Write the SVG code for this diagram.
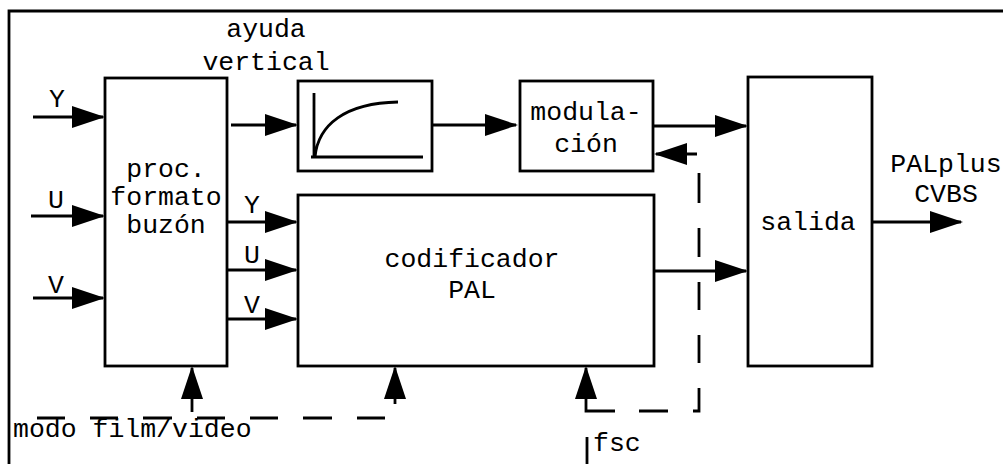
<svg xmlns="http://www.w3.org/2000/svg" width="1003" height="464" viewBox="0 0 1003 464">
<style>
.box{fill:#fff;stroke:#000;stroke-width:2.8}
.ln{fill:none;stroke:#000;stroke-width:2.8}
.ar{fill:none;stroke:#000;stroke-width:2.8;marker-end:url(#ah)}
.t{font-family:"Liberation Mono","Courier New",monospace;font-size:26.5px;fill:#000;text-anchor:middle}
.tl{font-family:"Liberation Mono","Courier New",monospace;font-size:26.5px;fill:#000}
</style>
<defs>
<marker id="ah" markerUnits="userSpaceOnUse" markerWidth="34" markerHeight="24" refX="31" refY="11" orient="auto">
<path d="M0,0 L33,11 L0,22 z" fill="#000"/>
</marker>
</defs>
<rect width="1003" height="464" fill="#fff"/>
<g id="frame">
<path class="ln" d="M9,464 V11 H1003"/>
</g>
<g id="proc">
<rect class="box" x="105" y="78" width="122" height="288"/>
<text class="t" x="166" y="177">proc.</text>
<text class="t" x="166" y="205">formato</text>
<text class="t" x="166" y="233">buzón</text>
</g>
<g id="ayuda">
<rect class="box" x="298" y="81" width="134" height="90"/>
<path class="ln" d="M314,93 V157 M311,157 H423 M315,157 C318,125 345,103 398,102"/>
</g>
<g id="modulacion">
<rect class="box" x="520" y="81" width="133" height="90"/>
<text class="t" x="586" y="120">modula-</text>
<text class="t" x="586" y="152">ción</text>
</g>
<g id="codificador">
<rect class="box" x="298" y="195" width="356" height="171"/>
<text class="t" x="472" y="267">codificador</text>
<text class="t" x="472" y="298">PAL</text>
</g>
<g id="salida">
<rect class="box" x="748" y="77" width="124" height="289"/>
<text class="t" x="808" y="230">salida</text>
</g>
<g id="labels">
<text class="t" x="266" y="37">ayuda</text>
<text class="t" x="266" y="70">vertical</text>
<text class="t" x="57" y="107">Y</text>
<text class="t" x="56" y="208">U</text>
<text class="t" x="56" y="293">V</text>
<text class="t" x="252" y="213">Y</text>
<text class="t" x="252" y="263">U</text>
<text class="t" x="252" y="313">V</text>
<text class="t" x="946" y="172">PALplus</text>
<text class="t" x="946" y="202">CVBS</text>
<text class="tl" x="13" y="437">modo film/video</text>
<text class="tl" x="593" y="451">fsc</text>
</g>
<g id="connectors">
<path class="ar" d="M33,117 H103"/>
<path class="ar" d="M31,216 H103"/>
<path class="ar" d="M33,298 H103"/>
<path class="ar" d="M231,125 H296"/>
<path class="ar" d="M432,125 H516"/>
<path class="ar" d="M653,126 H746"/>
<path class="ar" d="M654,271 H746"/>
<path class="ar" d="M872,222 H961"/>
<path class="ar" d="M228,222 H296"/>
<path class="ar" d="M228,270 H296"/>
<path class="ar" d="M228,319 H296"/>
<path class="ar" d="M697,154 H656"/>
<path class="ar" d="M192,412 V368"/>
<path class="ar" d="M395,404 V368"/>
<path class="ar" d="M586,395 V368"/>
<path class="ln" d="M586,395 V411 H615 M639,411 H668 M693,411 H699 V388 M699,363 V335 M699,310 V282 M699,257 V228 M699,203 V173"/>
<path class="ln" d="M587,437 V464"/>
<path class="ln" d="M37,418 H65 M90,418 H118 M143,418 H172 M197,418 H225 M250,418 H278 M303,418 H332 M357,418 H385"/>
</g>
</svg>
